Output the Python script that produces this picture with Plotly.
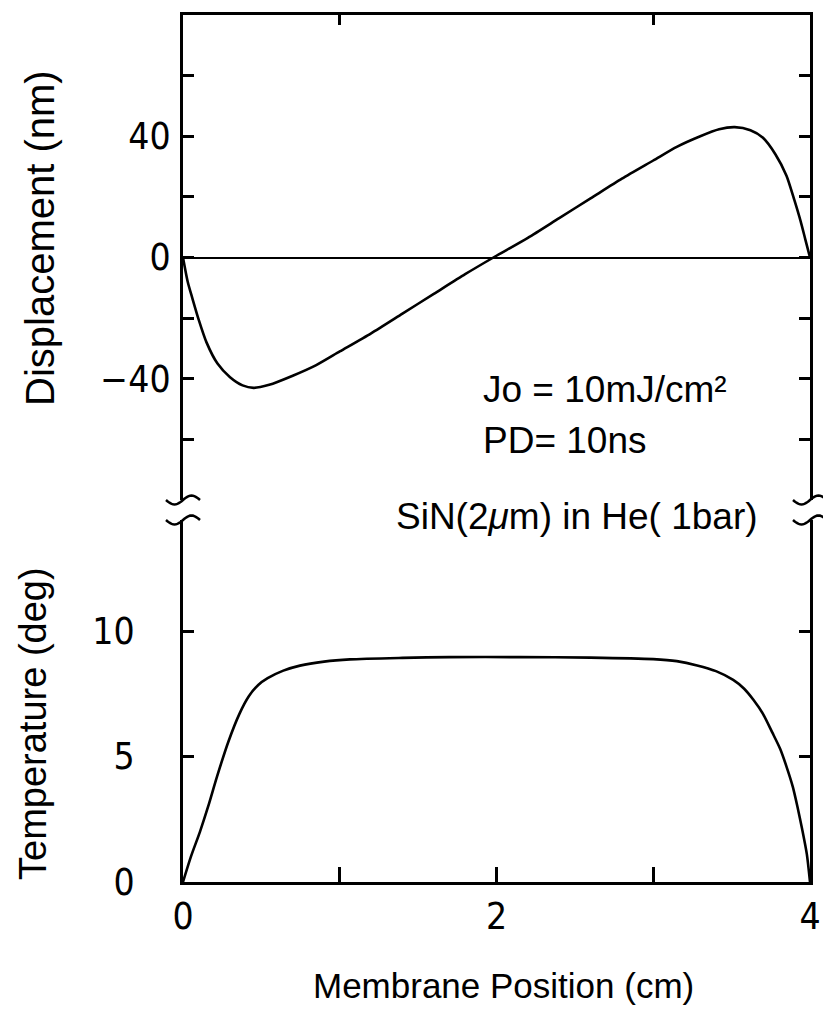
import numpy as np
import plotly.graph_objects as go

# Membrane position (cm) and displacement (nm)
disp_x = [0.0, 0.03, 0.06, 0.10, 0.15, 0.22, 0.30, 0.38, 0.45, 0.55, 0.70, 0.85,
          1.00, 1.20, 1.40, 1.60, 1.80, 1.98, 2.20, 2.40, 2.60, 2.80, 3.00, 3.15,
          3.30, 3.42, 3.52, 3.62, 3.70, 3.78, 3.85, 3.90, 3.94, 3.97, 4.00]
disp_y = [0.0, -8.0, -13.5, -20.5, -28.0, -35.0, -39.5, -42.2, -43.0, -42.0, -39.0, -35.5,
          -31.0, -25.0, -18.5, -12.0, -5.5, 0.0, 6.5, 13.0, 19.5, 26.0, 32.0, 36.5,
          40.0, 42.3, 43.0, 42.0, 39.5, 34.0, 27.0, 19.0, 12.0, 6.0, 0.0]

# Membrane position (cm) and temperature rise (deg)
temp_x = [0.0, 0.05, 0.108, 0.16, 0.217, 0.29, 0.36, 0.42, 0.48, 0.54, 0.64, 0.746, 0.90,
          1.065, 1.40, 1.70, 2.15, 2.60, 3.00, 3.15, 3.28, 3.40, 3.51, 3.58, 3.64,
          3.70, 3.76, 3.81, 3.85, 3.89, 3.92, 3.95, 3.98, 4.00]
temp_y = [0.0, 1.0, 2.0, 3.0, 4.2, 5.6, 6.7, 7.4, 7.85, 8.12, 8.42, 8.62, 8.78,
          8.87, 8.93, 8.96, 8.96, 8.94, 8.88, 8.8, 8.63, 8.4, 8.05, 7.7, 7.25,
          6.7, 5.95, 5.3, 4.6, 3.8, 3.0, 2.1, 1.1, 0.0]

x_ticks = [0, 1, 2, 3, 4]
x_ticktext = ["0", "", "2", "", "4"]
disp_ticks = [-60, -40, -20, 0, 20, 40, 60]
disp_ticktext = ["", "\u221240", "", "0", "", "40", ""]
temp_ticks = [0, 5, 10]
temp_ticktext = ["0", "5", "10"]

W, H = 823, 1029
L, R, T, B = 183, 13, 15, 147
PW, PH = W - L - R, H - T - B


def px(x):
    return (x - L) / PW


def py(y):
    return (H - B - y) / PH


TOP_BOTTOM = 500   # lower edge of displacement panel (px)
BOT_TOP = 520      # upper edge of temperature panel (px)

tick_font = dict(family="Liberation Sans Narrow, Arial Narrow, DejaVu Sans Condensed", size=37, color="black")
note_font = dict(family="Liberation Sans, Arial, Helvetica", size=37, color="black")


def title_font(size):
    return dict(family="Liberation Sans, Arial, Helvetica", size=size, color="black")


fig = go.Figure()
fig.add_trace(go.Scatter(x=disp_x, y=disp_y, mode="lines", xaxis="x2", yaxis="y",
                         line=dict(color="black", width=2.6, shape="spline", smoothing=0.7),
                         showlegend=False))
fig.add_trace(go.Scatter(x=temp_x, y=temp_y, mode="lines", xaxis="x", yaxis="y2",
                         line=dict(color="black", width=2.6, shape="spline", smoothing=0.7),
                         showlegend=False))

axis_common = dict(showgrid=False, showline=True, linecolor="black", linewidth=3,
                   ticks="inside", tickcolor="black", tickwidth=3)

fig.update_layout(
    width=W, height=H,
    margin=dict(l=L, r=R, t=T, b=B, pad=0, autoexpand=False),
    paper_bgcolor="white", plot_bgcolor="white",
    xaxis=dict(domain=[0, 1], anchor="y2", range=[0, 4], tickvals=x_ticks, ticktext=x_ticktext,
               ticklen=15, tickfont=tick_font, zeroline=False, ticklabelstandoff=0, **axis_common),
    xaxis2=dict(domain=[0, 1], anchor="y", side="top", range=[0, 4], tickvals=[1, 3],
                showticklabels=False, ticklen=10, zeroline=False, **axis_common),
    yaxis=dict(domain=[py(TOP_BOTTOM), 1], anchor="x2", range=[-80, 80], tickvals=disp_ticks,
               ticktext=disp_ticktext, ticklen=11, tickfont=tick_font, mirror="ticks",
               zeroline=True, zerolinecolor="black", zerolinewidth=2, ticklabelstandoff=2,
               **axis_common),
    yaxis2=dict(domain=[0, py(BOT_TOP)], anchor="x", range=[0, (H - B - BOT_TOP) / 25.1],
                tickvals=temp_ticks, ticktext=temp_ticktext, ticklen=11, tickfont=tick_font,
                mirror="ticks", zeroline=False, ticklabelstandoff=38, **axis_common),
)

# axis titles and notes
annotations = [
    dict(text="Displacement (nm)", x=px(40), y=py(238), textangle=-90, font=title_font(40)),
    dict(text="Temperature (deg)", x=px(33), y=py(724), textangle=-90, font=title_font(38)),
    dict(text="Membrane Position (cm)", x=px(503), y=py(985), font=title_font(35)),
    dict(text="Jo = 10mJ/cm\u00b2", x=px(481), y=py(390), xanchor="left", font=note_font),
    dict(text="PD= 10ns", x=px(481), y=py(440), xanchor="left", font=note_font),
    dict(text="SiN(2<i>\u03bc</i>m) in He( 1bar)", x=px(760), y=py(516), xanchor="right", font=note_font),
]
for a in annotations:
    a.update(xref="paper", yref="paper", showarrow=False)
    a.setdefault("xanchor", "center")
    a.setdefault("yanchor", "middle")
fig.update_layout(annotations=annotations)


# wavy break marks on both side axes
def wave(cx, cy, half=17, amp=4.5, n=25):
    pts = []
    for i in range(n):
        dx = -half + 2 * half * i / (n - 1)
        dy = -amp * np.sin(np.pi * dx / half)
        pts.append((px(cx + dx), py(cy + dy)))
    return "M " + " L ".join(f"{a:.5f},{b:.5f}" for a, b in pts)


shapes = []
for cx in (L, L + PW):
    for cy in (TOP_BOTTOM, BOT_TOP):
        shapes.append(dict(type="path", xref="paper", yref="paper", path=wave(cx, cy),
                           line=dict(color="black", width=2.6)))
fig.update_layout(shapes=shapes)

fig.write_html("out.html")
